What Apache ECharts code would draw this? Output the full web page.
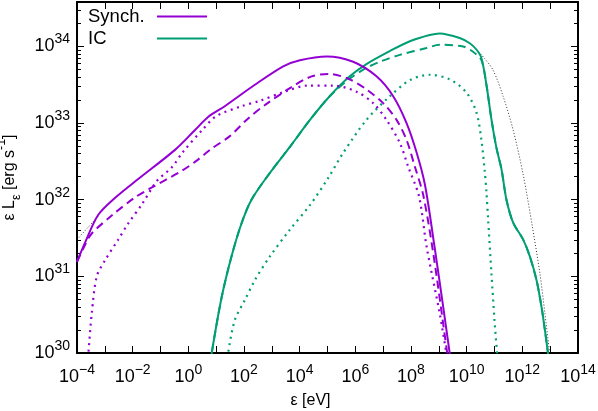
<!DOCTYPE html>
<html>
<head>
<meta charset="utf-8">
<script src="https://cdn.jsdelivr.net/npm/echarts@6/dist/echarts.min.js"></script>
<style>
  html, body { margin: 0; padding: 0; background: #fff; }
  #chart { width: 598px; height: 411px; }
</style>
</head>
<body>
<div id="chart"></div>
<script>
// photon energy eps [eV] and eps*L_eps [erg/s]

// synchrotron
const synchSolidE = [1e-4, 2.0e-4, 5.75e-4, 2.29e-3, 1.58e-2, 0.331, 1.74, 5.13, 20.4, 245, 2570, 1.02e4, 9.33e4, 8.32e5, 5.75e6, 2.29e7, 6.92e7, 1.58e8, 3.16e8, 6.92e8, 1.41e9, 2.45e9, 2.82e9];
const synchSolidL = [1.55e31, 2.82e31, 6.31e31, 1.05e32, 1.86e32, 4.47e32, 8.13e32, 1.20e33, 1.66e33, 3.16e33, 5.50e33, 6.61e33, 7.41e33, 6.31e33, 4.07e33, 2.24e33, 1.00e33, 4.17e32, 1.58e32, 2.51e31, 4.17e30, 1.0e30, 7.08e29];

const synchDashE = [1e-4, 2.0e-4, 3.39e-4, 1.86e-3, 1.20e-2, 3.89e-2, 0.603, 2.0, 6.46, 30.9, 141, 646, 5130, 2.69e4, 1.20e5, 6.31e5, 2.51e6, 1e7, 3.02e7, 6.92e7, 1.38e8, 2.75e8, 6.31e8, 2.0e9, 2.29e9];
const synchDashL = [1.55e31, 2.63e31, 3.63e31, 6.31e31, 1.07e32, 1.38e32, 2.40e32, 3.24e32, 4.57e32, 6.76e32, 1.15e33, 1.78e33, 2.95e33, 4.07e33, 4.37e33, 3.72e33, 2.75e33, 1.82e33, 1.10e33, 6.03e32, 2.69e32, 1.15e32, 2.0e31, 1e30, 7.08e29];

const synchDotE = [2.40e-4, 2.57e-4, 3.39e-4, 5.13e-4, 1.02e-3, 3.02e-3, 6.92e-3, 2.24e-2, 7.24e-2, 0.251, 0.631, 3.16, 10, 81.3, 372, 2950, 2.0e4, 1.58e5, 1.10e6, 4.37e6, 1.32e7, 3.98e7, 7.94e7, 1.95e8, 3.63e8, 1.07e9, 1.86e9, 2.14e9];
const synchDotL = [7.08e29, 1e30, 3.31e30, 1e31, 1.62e31, 3.02e31, 4.90e31, 8.91e31, 1.74e32, 2.63e32, 4.17e32, 8.13e32, 1.23e33, 1.66e33, 1.95e33, 2.57e33, 3.09e33, 3.09e33, 2.57e33, 1.82e33, 1.10e33, 5.50e32, 2.69e32, 1.10e32, 2.45e31, 3.31e30, 1e30, 7.08e29];

// inverse Compton
const icSolidE = [6.31, 6.92, 15.8, 35.5, 81.3, 186, 851, 4470, 2.34e4, 1.20e5, 6.31e5, 2.51e6, 1.74e7, 9.12e7, 4.68e8, 1.07e9, 5.62e9, 1.29e10, 2.24e10, 3.39e10, 5.13e10, 7.76e10, 1.17e11, 1.78e11, 2.69e11, 4.68e11, 1.07e12, 1.86e12, 3.24e12, 4.90e12, 6.46e12, 8.32e12, 9.12e12];
const icSolidL = [7.08e29, 1e30, 5.37e30, 1.82e31, 4.90e31, 1e32, 2.24e32, 4.90e32, 1.10e33, 2.24e33, 4.07e33, 5.89e33, 8.71e33, 1.17e34, 1.41e34, 1.48e34, 1.29e34, 1.10e34, 9.12e33, 7.08e33, 3.16e33, 1.12e33, 4.79e32, 2.51e32, 1e32, 5.01e31, 3.02e31, 1.82e31, 8.91e30, 3.98e30, 2.0e30, 1e30, 7.08e29];

const icDashE = [6.31, 6.92, 15.8, 35.5, 81.3, 186, 851, 4470, 2.34e4, 1.20e5, 6.31e5, 2.51e6, 7.59e6, 3.98e7, 3.63e8, 1.07e9, 7.41e9, 1.70e10, 3.39e10, 5.13e10, 7.76e10, 1.17e11, 1.78e11, 2.69e11, 4.68e11, 1.07e12, 1.86e12, 3.24e12, 4.90e12, 6.46e12, 8.32e12, 9.12e12];
const icDashL = [7.08e29, 1e30, 5.37e30, 1.82e31, 4.90e31, 1e32, 2.24e32, 4.90e32, 1.10e33, 2.24e33, 3.80e33, 5.25e33, 6.31e33, 7.76e33, 9.55e33, 1.05e34, 1e34, 8.51e33, 6.61e33, 3.16e33, 1.12e33, 4.79e32, 2.51e32, 1e32, 5.01e31, 3.02e31, 1.82e31, 8.91e30, 3.98e30, 2.0e30, 1e30, 7.08e29];

const icDotE = [25.1, 26.9, 46.8, 107, 245, 851, 4470, 2.34e4, 1.05e5, 3.63e5, 2.51e6, 1.74e7, 9.12e7, 4.68e8, 2.45e9, 9.77e9, 2.24e10, 3.39e10, 4.47e10, 5.13e10, 5.89e10, 7.76e10, 1e11, 1.23e11, 1.32e11];
const icDotL = [7.08e29, 1e30, 2.69e30, 4.90e30, 8.91e30, 1.82e31, 4.07e31, 8.51e31, 1.91e32, 4.07e32, 1.10e33, 2.24e33, 3.63e33, 4.27e33, 3.72e33, 2.51e33, 1.38e33, 6.03e32, 2.34e32, 1.26e32, 5.62e31, 1.10e31, 2.69e30, 1e30, 7.08e29];

// thin black dotted (only visible where it leaves the solid curves)
const thinLowE = [1e-4, 2.51e-4, 5.62e-4];
const thinLowL = [3.02e31, 4.37e31, 6.03e31];
const thinHighE = [2.24e10, 4.47e10, 8.91e10, 2.04e11, 4.68e11, 1.07e12, 2.29e12, 4.27e12, 6.46e12, 9.55e12, 1.05e13];
const thinHighL = [9.12e33, 6.92e33, 4.90e33, 2.24e33, 8.13e32, 2.14e32, 4.47e31, 1.10e31, 3.31e30, 1e30, 7.08e29];

// axes
const xMin = 1e-4, xMax = 1e14;
const yMin = 1e30, yMax = 3.8e34;
const xTicks = [1e-4, 1e-3, 1e-2, 1e-1, 1e0, 1e1, 1e2, 1e3, 1e4, 1e5, 1e6, 1e7, 1e8, 1e9, 1e10, 1e11, 1e12, 1e13, 1e14];
const xLabels = [1e-4, 1e-2, 1e0, 1e2, 1e4, 1e6, 1e8, 1e10, 1e12, 1e14];
const yLabels = [1e30, 1e31, 1e32, 1e33, 1e34];

const PURPLE = '#9400d3';
const GREEN = '#009e73';
const FONT = '"Liberation Sans", Arial, Helvetica, sans-serif';

const yMinor = [];
for (const d of yLabels) {
    for (let m = 2; m <= 9; m++) {
        if (m * d <= yMax) yMinor.push(m * d);
    }
}

const zip = (xs, ys) => xs.map((x, i) => [x, ys[i]]);

// "10" with raised exponent
const tickRich = {
    b: { fontSize: 18, lineHeight: 28, color: '#000', fontFamily: FONT },
    s: { fontSize: 14, lineHeight: 16, verticalAlign: 'top', color: '#000', fontFamily: FONT }
};
const nameRich = {
    b: { fontSize: 16, lineHeight: 28, color: '#000', fontFamily: FONT },
    s: { fontSize: 12.5, lineHeight: 16, verticalAlign: 'top', color: '#000', fontFamily: FONT },
    sub: { fontSize: 12.5, lineHeight: 16, verticalAlign: 'bottom', color: '#000', fontFamily: FONT }
};
const powLabel = v => {
    const e = Math.round(Math.log10(v));
    return '{b|10}{s|' + (e < 0 ? '\u2212' + (-e) : e) + '}';
};

function xAxisOpt(pos, withLabels) {
    return {
        type: 'log',
        position: pos,
        min: xMin,
        max: xMax,
        splitLine: { show: false },
        axisLine: { show: true, onZero: false, lineStyle: { color: '#000', width: 2 } },
        axisTick: { show: true, inside: true, length: 7, customValues: xTicks, lineStyle: { color: '#000', width: 1 } },
        axisLabel: {
            show: withLabels,
            customValues: xLabels,
            margin: 10,
            formatter: powLabel,
            rich: tickRich
        },
        name: withLabels ? 'ε [eV]' : '',
        nameLocation: 'middle',
        nameGap: 37,
        nameTextStyle: { fontSize: 16, lineHeight: 20, color: '#000', fontFamily: FONT, padding: [0, 34, 0, 0] }
    };
}

function yAxisOpt(pos, major, withLabels) {
    return {
        type: 'log',
        position: pos,
        min: yMin,
        max: yMax,
        splitLine: { show: false },
        axisLine: { show: major, onZero: false, lineStyle: { color: '#000', width: 2 } },
        axisTick: {
            show: true, inside: true, length: major ? 7 : 4,
            customValues: major ? yLabels : yMinor,
            lineStyle: { color: '#000', width: 1 }
        },
        axisLabel: {
            show: withLabels,
            customValues: yLabels,
            margin: 7,
            formatter: powLabel,
            rich: tickRich
        },
        name: withLabels ? '{b|ε L}{sub|ε}{b| [erg s}{s|-1}{b|]}' : '',
        nameLocation: 'middle',
        nameRotate: 90,
        nameGap: 48,
        nameTextStyle: { rich: nameRich }
    };
}

function line(name, data, color, type, width) {
    return {
        name: name,
        type: 'line',
        data: data,
        xAxisIndex: 0,
        yAxisIndex: 0,
        showSymbol: false,
        symbol: 'none',
        smooth: 0.3,
        clip: true,
        silent: true,
        lineStyle: { color: color, width: width, type: type, cap: 'butt' },
        itemStyle: { color: color }
    };
}

const chart = echarts.init(document.getElementById('chart'), null, { renderer: 'canvas' });

chart.setOption({
    animation: false,
    backgroundColor: '#fff',
    textStyle: { fontFamily: FONT },
    grid: { left: 77, right: 20, top: 2, bottom: 58, containLabel: false, outerBoundsMode: 'none' },
    legend: {
        data: ['Synch.', 'IC'],
        orient: 'vertical',
        left: 88,
        top: 7,
        padding: 0,
        itemGap: 3,
        align: 'right',
        icon: 'rect',
        itemWidth: 50,
        itemHeight: 2,
        selectedMode: false,
        formatter: n => '{a|' + n + '}',
        textStyle: {
            rich: { a: { width: 64, align: 'left', fontSize: 18.5, lineHeight: 20, color: '#000', fontFamily: FONT } }
        }
    },
    xAxis: [xAxisOpt('bottom', true), xAxisOpt('top', false)],
    yAxis: [
        yAxisOpt('left', true, true),
        yAxisOpt('left', false, false),
        yAxisOpt('right', true, false),
        yAxisOpt('right', false, false)
    ],
    series: [
        line('thinLow', zip(thinLowE, thinLowL), '#000', [1, 2], 0.8),
        line('thinHigh', zip(thinHighE, thinHighL), '#000', [1, 2], 0.8),
        line('IC dotted', zip(icDotE, icDotL), GREEN, [2, 4.5], 2.2),
        line('IC dashed', zip(icDashE, icDashL), GREEN, [8, 5], 2),
        line('IC', zip(icSolidE, icSolidL), GREEN, 'solid', 2),
        line('Synch. dotted', zip(synchDotE, synchDotL), PURPLE, [2, 4.5], 2.2),
        line('Synch. dashed', zip(synchDashE, synchDashL), PURPLE, [8, 5], 2),
        line('Synch.', zip(synchSolidE, synchSolidL), PURPLE, 'solid', 2)
    ]
});
</script>
</body>
</html>
